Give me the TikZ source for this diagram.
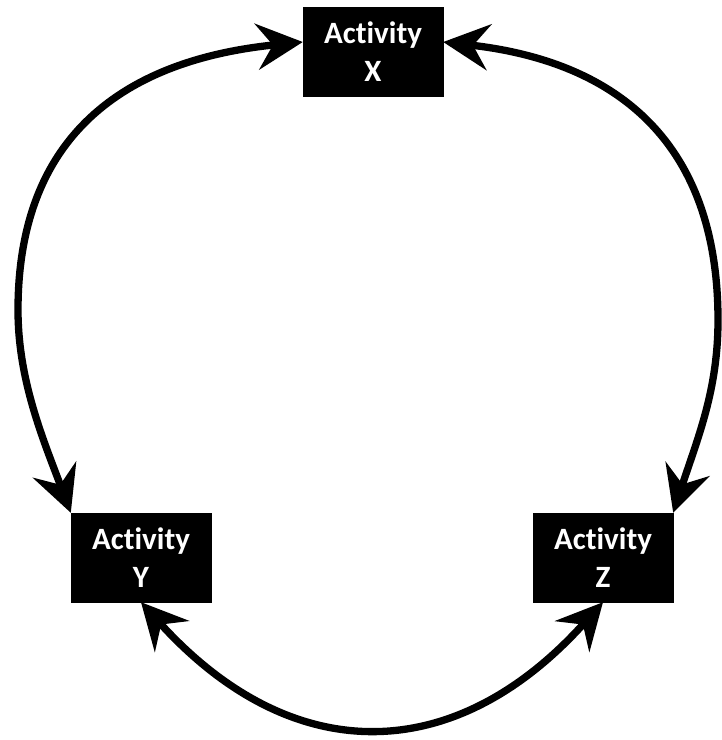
\documentclass[tikz,border=0pt]{standalone}
\usepackage{fontspec}
\newfontfamily\boxfont[Ligatures=NoCommon]{Carlito}
\usetikzlibrary{arrows.meta}
\begin{document}
\begin{tikzpicture}[x=1pt,y=-1pt,
  actbox/.style={rectangle, fill=black, draw=black, text=white, align=center,
    minimum width=140pt, minimum height=89pt, inner sep=0pt,
    font=\boxfont\bfseries\fontsize{31}{38}\selectfont},
  arr/.style={line width=7.3pt, {Stealth[length=46pt,width=46pt,inset=16pt]}-{Stealth[length=46pt,width=46pt,inset=16pt]}}]
\useasboundingbox (0,0) rectangle (722,740);
\node[actbox] (X) at (373,52) {Activity\\X};
\node[actbox] (Y) at (141,557.5) {Activity\\Y};
\node[actbox] (Z) at (603,557.5) {Activity\\Z};
\coordinate (L) at (18,310);
\coordinate (R) at (718,320);
\draw[arr] ([yshift=10pt]X.west) .. controls (125,60) and (18,135) .. (L)
  .. controls (18,380) and (43,439) .. (Y.north west);
\draw[arr] ([yshift=10pt]X.east) .. controls (620,62) and (718,145) .. (R)
  .. controls (718,390) and (698,437) .. (Z.north east);
\draw[arr] (Y.south) .. controls (291,768) and (454,768) .. (Z.south);
\end{tikzpicture}
\end{document}
